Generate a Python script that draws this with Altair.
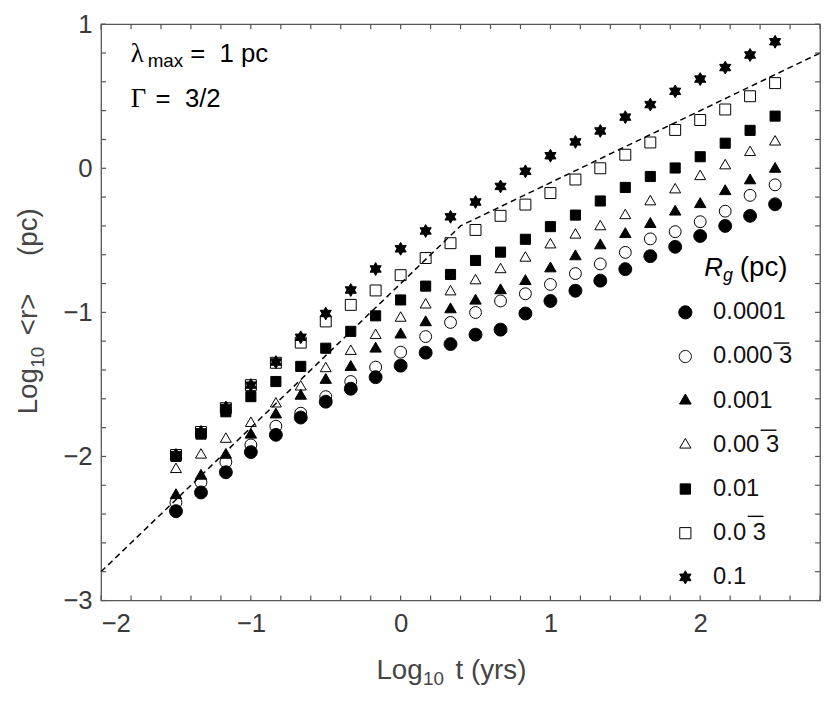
import altair as alt
import pandas as pd

# ---------------- data ----------------
t_vals = [-1.5, -1.333, -1.167, -1.0, -0.833, -0.667, -0.5, -0.333, -0.167, 0.0,
          0.167, 0.333, 0.5, 0.667, 0.833, 1.0, 1.167, 1.333, 1.5, 1.667,
          1.833, 2.0, 2.167, 2.333, 2.5]

r_0001 = [-2.38, -2.25, -2.11, -1.97, -1.85, -1.73, -1.62, -1.53, -1.45, -1.37,
          -1.28, -1.22, -1.155, -1.12, -1.008, -0.921, -0.85, -0.78, -0.70, -0.61,
          -0.545, -0.47, -0.40, -0.33, -0.25]
r_00033 = [-2.32, -2.18, -2.04, -1.92, -1.79, -1.70, -1.585, -1.48, -1.38, -1.276,
           -1.168, -1.07, -1.001, -0.921, -0.871, -0.806, -0.731, -0.664, -0.584, -0.49,
           -0.44, -0.371, -0.298, -0.188, -0.115]
r_001 = [-2.27, -2.135, -1.99, -1.85, -1.71, -1.58, -1.47, -1.38, -1.253, -1.155,
         -1.07, -0.98, -0.92, -0.848, -0.784, -0.696, -0.612, -0.536, -0.458, -0.388,
         -0.302, -0.25, -0.16, -0.085, -0.005]
r_0033 = [-2.09, -1.99, -1.88, -1.77, -1.635, -1.517, -1.39, -1.27, -1.16, -1.04,
          -0.948, -0.857, -0.78, -0.703, -0.623, -0.531, -0.463, -0.405, -0.328, -0.232,
          -0.149, -0.057, 0.018, 0.11, 0.183]
r_01 = [-2.0, -1.845, -1.69, -1.585, -1.48, -1.375, -1.249, -1.132, -1.024, -0.914,
        -0.818, -0.737, -0.64, -0.582, -0.493, -0.405, -0.325, -0.227, -0.133, -0.057,
        0.002, 0.08, 0.174, 0.263, 0.362]
r_033 = [-1.99, -1.83, -1.665, -1.505, -1.35, -1.21, -1.063, -0.948, -0.848, -0.742,
         -0.623, -0.52, -0.428, -0.33, -0.252, -0.172, -0.078, 0.0, 0.094, 0.179,
         0.266, 0.335, 0.408, 0.5, 0.591]
r_1 = [-1.99, -1.83, -1.66, -1.505, -1.345, -1.173, -1.008, -0.845, -0.699, -0.559,
       -0.435, -0.337, -0.234, -0.126, -0.021, 0.087, 0.183, 0.259, 0.355, 0.442,
       0.534, 0.619, 0.699, 0.786, 0.878]

# legend labels (the repeating "3" gets an overline drawn above it)
series_labels = ["0.0001", "0.000\u00a03", "0.001", "0.00\u00a03",
                 "0.01", "0.0\u00a03", "0.1"]
series_values = [r_0001, r_00033, r_001, r_0033, r_01, r_033, r_1]

# dashed reference line (break points)
fit_t = [-2.0, 0.4, 2.8]
fit_r = [-2.8, -0.4, 0.8]

# axis ticks
x_ticks = [-2.0, -1.8, -1.6, -1.4, -1.2, -1.0, -0.8, -0.6, -0.4, -0.2, 0.0, 0.2, 0.4,
           0.6, 0.8, 1.0, 1.2, 1.4, 1.6, 1.8, 2.0, 2.2, 2.4, 2.6, 2.8]
y_ticks = [-3.0, -2.8, -2.6, -2.4, -2.2, -2.0, -1.8, -1.6, -1.4, -1.2, -1.0, -0.8, -0.6,
           -0.4, -0.2, 0.0, 0.2, 0.4, 0.6, 0.8, 1.0]
x_labels = [-2, -1, 0, 1, 2]
y_labels = [-3, -2, -1, 0, 1]

# ---------------- marker shapes ----------------
CIRC_F = "M1.08,0A1.08,1.08,0,1,1,-1.08,0A1.08,1.08,0,1,1,1.08,0Z"
CIRC_O = "M1,0A1,1,0,1,1,-1,0A1,1,0,1,1,1,0Z"
TRI_F = "M0,-1.109L0.96,0.554L-0.96,0.554Z"
TRI_O = "M0,-1.062L0.92,0.531L-0.92,0.531Z"
SQ_F = "M-0.85,-0.85L0.85,-0.85L0.85,0.85L-0.85,0.85Z"
SQ_O = "M-0.92,-0.92L0.92,-0.92L0.92,0.92L-0.92,0.92Z"
STAR = ("M0,-1.08L0.312,-0.54L0.935,-0.54L0.624,0L0.935,0.54L0.312,0.54L0,1.08"
        "L-0.312,0.54L-0.935,0.54L-0.624,0L-0.935,-0.54L-0.312,-0.54Z")
shape_range = [CIRC_F, CIRC_O, TRI_F, TRI_O, SQ_F, SQ_O, STAR]
fill_range = ["black", "transparent", "black", "transparent", "black", "transparent", "black"]
stroke_range = ["black"] * 7

rows = []
for lab, vals in zip(series_labels, series_values):
    for t, r in zip(t_vals, vals):
        rows.append({"series": lab, "t": t, "r": r})
df = pd.DataFrame(rows)

W, H = 726, 582
FONT = "Liberation Sans"
GREY = "#454545"

xscale = alt.Scale(domain=[-2, 2.8], nice=False, zero=False)
yscale = alt.Scale(domain=[-3, 1], nice=False, zero=False)
xaxis = alt.Axis(values=x_labels, format="d", ticks=False, domain=False, grid=False,
                 labelFont=FONT, labelFontSize=26, labelColor="#3a3a3a", labelPadding=10,
                 title=None)
yaxis = alt.Axis(values=y_labels, format="d", ticks=False, domain=False, grid=False,
                 labelFont=FONT, labelFontSize=26, labelColor="#3a3a3a", labelPadding=9,
                 title=None)

X = alt.X("t:Q", scale=xscale, axis=xaxis)
Y = alt.Y("r:Q", scale=yscale, axis=yaxis)

leg = alt.Legend(title=None, orient="none", legendX=578, legendY=279, symbolSize=150,
                 symbolStrokeWidth=1, labelFont=FONT,
                 labelFontSize=24, labelColor="#111111", labelOffset=16, rowPadding=20.6,
                 padding=0, offset=0)

line = alt.Chart(pd.DataFrame({"t": fit_t, "r": fit_r})).mark_line(
    color="black", strokeWidth=1.5, strokeDash=[6, 4]).encode(x=X, y=Y)

points = alt.Chart(df).mark_point(filled=True, opacity=1, size=144, strokeWidth=1).encode(
    x=X, y=Y,
    shape=alt.Shape("series:N", scale=alt.Scale(domain=series_labels, range=shape_range), legend=leg),
    fill=alt.Fill("series:N", scale=alt.Scale(domain=series_labels, range=fill_range), legend=leg),
    stroke=alt.Stroke("series:N", scale=alt.Scale(domain=series_labels, range=stroke_range), legend=leg),
)

tick_style = dict(color="#555555", strokeWidth=1.2)
xt = pd.DataFrame({"t": x_ticks})
yt = pd.DataFrame({"r": y_ticks})
tb = alt.Chart(xt).mark_rule(**tick_style).encode(x=X, y=alt.value(H), y2=alt.value(H - 5))
tt = alt.Chart(xt).mark_rule(**tick_style).encode(x=X, y=alt.value(0), y2=alt.value(5))
tl = alt.Chart(yt).mark_rule(**tick_style).encode(y=Y, x=alt.value(0), x2=alt.value(5))
tr = alt.Chart(yt).mark_rule(**tick_style).encode(y=Y, x=alt.value(W), x2=alt.value(W - 5))


def label(txt, x, y, size, font=FONT, style="normal", color="black", angle=0):
    return alt.Chart(alt.Data(values=[{}])).mark_text(
        text=txt, align="left", baseline="alphabetic", font=font, fontSize=size,
        fontStyle=style, color=color, angle=angle).encode(x=alt.value(x), y=alt.value(y))


def overline(x1, x2, y):
    return alt.Chart(alt.Data(values=[{}])).mark_rule(color="black", strokeWidth=1.4).encode(
        x=alt.value(x1), x2=alt.value(x2), y=alt.value(y))


texts = [
    # annotation
    label("\u03bb", 30, 38, 27, font="Liberation Serif"),
    label("max", 47, 43, 19),
    label("=\u00a0\u00a01\u00a0pc", 90, 38, 26),
    label("\u0393", 30, 84, 27, font="Liberation Serif"),
    label("=\u00a0\u00a03/2", 55, 84, 26),
    # legend title
    label("R", 609, 254, 26, style="italic"),
    label("g", 628, 259, 18, style="italic"),
    label("(pc)", 645, 254, 28),
    # x-axis title
    label("Log", 278, 661, 28, color=GREY),
    label("10", 325, 667, 19, color=GREY),
    label("t (yrs)", 358, 661, 28, color=GREY),
    # y-axis title
    label("Log", -65, 394, 28, color=GREY, angle=270),
    label("10", -58, 347, 19, color=GREY, angle=270),
    label("<r>", -65, 314, 28, color=GREY, angle=270),
    label("(pc)", -65, 234, 28, color=GREY, angle=270),
]

overlines = [
    overline(679, 695, 322),
    overline(666, 682, 410),
    overline(653, 669, 497),
]

chart = alt.layer(line, points, tb, tt, tl, tr, *texts, *overlines).properties(
    width=W, height=H, autosize="none",
    padding={"left": 94, "top": 13, "right": 2, "bottom": 86},
    background="white",
).configure_view(stroke="#555555", strokeWidth=1.3)

chart.save("out.html", embed_options={"renderer": "svg", "actions": False})
